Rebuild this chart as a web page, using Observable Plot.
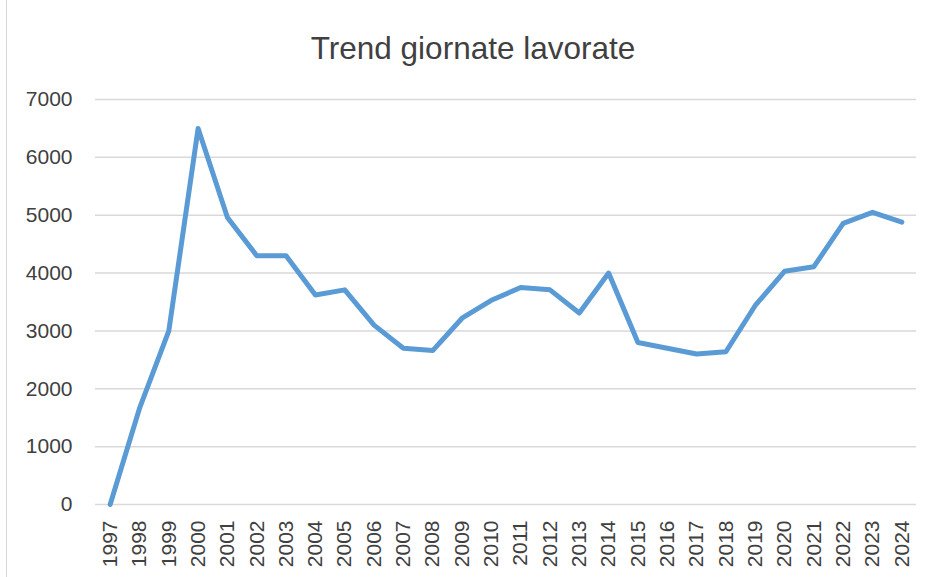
<!DOCTYPE html>
<html>
<head>
<meta charset="utf-8">
<script src="https://cdn.jsdelivr.net/npm/d3@7"></script>
<script src="https://cdn.jsdelivr.net/npm/@observablehq/plot@0.6"></script>
<style>
  html, body { margin: 0; padding: 0; background: #fff; }
  #wrap { position: relative; width: 932px; height: 577px; overflow: hidden; font-family: "Liberation Sans", Arial, sans-serif; }
  #frame { position: absolute; left: 6px; top: 0; width: 0; height: 577px; border-left: 1.5px solid #d9d9d9; }
  #title { height: 75px; box-sizing: border-box; padding-top: 30px; line-height: 36px; font-size: 31.5px; color: #404040; text-align: center; padding-left: 14px; }
</style>
</head>
<body>
<div id="wrap">
  <div id="frame"></div>
  <div id="title">Trend giornate lavorate</div>
  <div id="chart"></div>
</div>
<script>
const years = [1997,1998,1999,2000,2001,2002,2003,2004,2005,2006,2007,2008,2009,2010,2011,2012,2013,2014,2015,2016,2017,2018,2019,2020,2021,2022,2023,2024];
const giornate = [0,1660,3000,6500,4960,4300,4300,3620,3710,3100,2700,2660,3220,3530,3750,3710,3310,4000,2800,2700,2600,2640,3440,4030,4110,4860,5050,4880];
const yTicks = [0,1000,2000,3000,4000,5000,6000,7000];

const data = years.map((y, i) => ({year: String(y), value: giornate[i]}));

const chart = Plot.plot({
  width: 932,
  height: 502,
  marginTop: 24,
  marginBottom: 73,
  marginLeft: 95,
  marginRight: 16,
  style: {fontFamily: "Liberation Sans, Arial, sans-serif", fontSize: "21px", color: "#404040", background: "transparent"},
  x: {type: "point", domain: years.map(String), padding: 0.5, round: false, label: null},
  y: {domain: [0, 7000], label: null},
  marks: [
    Plot.ruleY(yTicks, {stroke: "#d9d9d9", strokeWidth: 1.5, strokeOpacity: 1}),
    Plot.axisY({ticks: yTicks, tickFormat: d => String(d), tickSize: 0, tickPadding: 23, fontSize: 21, label: null}),
    Plot.axisX({tickRotate: -90, tickSize: 0, tickPadding: 16, fontSize: 21, label: null}),
    Plot.line(data, {x: "year", y: "value", stroke: "#5b9bd5", strokeWidth: 5, strokeLinejoin: "round", strokeLinecap: "round"})
  ]
});
document.getElementById("chart").appendChild(chart);
</script>
</body>
</html>
